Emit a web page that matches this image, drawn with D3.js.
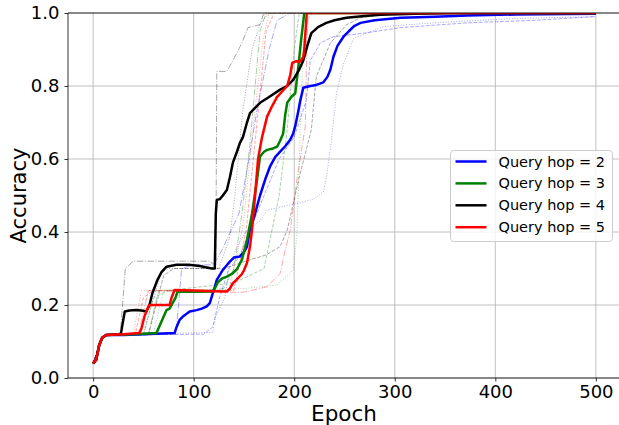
<!DOCTYPE html>
<meta charset="utf-8">
<style>
body { margin: 0; background: #fff; }
text { font-family: "DejaVu Sans", sans-serif; fill: #000; }
</style>
<svg width="619" height="425"></svg>
<script src="https://d3js.org/d3.v7.min.js"></script>
<script>

// main runs (bold lines), [epoch, accuracy]
var hop2 = [[0,0.04],[3,0.05],[6,0.09],[9,0.11],[13,0.118],[30,0.118],[50,0.12],[81,0.123],[83,0.14],[86,0.159],[90,0.17],[96,0.182],[103,0.186],[108,0.19],[113,0.196],[116,0.205],[118,0.223],[121,0.25],[123,0.269],[129,0.296],[136,0.319],[140,0.33],[146,0.333],[150,0.345],[153,0.36],[156,0.406],[160,0.44],[163,0.47],[166,0.5],[171,0.543],[176,0.58],[181,0.605],[186,0.62],[191,0.635],[196,0.653],[199,0.67],[201,0.69],[204,0.73],[206,0.76],[209,0.795],[216,0.80],[222,0.803],[229,0.81],[233,0.825],[236,0.845],[239,0.88],[243,0.91],[249,0.935],[255,0.952],[260,0.965],[266,0.973],[280,0.98],[306,0.987],[340,0.99],[372,0.993],[420,0.996],[500,0.998]];
var hop3 = [[0,0.04],[3,0.05],[6,0.09],[9,0.11],[13,0.118],[40,0.12],[63,0.123],[68,0.155],[73,0.186],[76,0.19],[79,0.205],[82,0.22],[84,0.237],[100,0.236],[119,0.237],[121,0.245],[124,0.262],[128,0.272],[133,0.278],[138,0.285],[143,0.298],[148,0.324],[153,0.378],[158,0.45],[163,0.543],[166,0.607],[170,0.62],[173,0.625],[178,0.628],[183,0.634],[186,0.65],[189,0.67],[191,0.72],[193,0.754],[197,0.77],[201,0.78],[204,0.85],[207,0.93],[210,1.0],[500,1.0]];
var hop4 = [[0,0.04],[3,0.05],[6,0.09],[9,0.11],[13,0.118],[27,0.12],[28,0.127],[30,0.16],[31.5,0.182],[36,0.185],[43,0.186],[50,0.184],[53,0.182],[56,0.2],[59,0.233],[64,0.269],[68,0.29],[73,0.305],[83,0.31],[95,0.31],[106,0.307],[113,0.303],[118,0.30],[121,0.30],[122,0.45],[123,0.488],[126,0.49],[129,0.5],[133,0.515],[136,0.55],[139,0.59],[143,0.62],[146,0.644],[149,0.66],[153,0.7],[156,0.726],[161,0.74],[166,0.754],[175,0.77],[186,0.79],[193,0.8],[199,0.817],[205,0.845],[209,0.87],[213,0.91],[217,0.945],[224,0.962],[232,0.973],[240,0.98],[252,0.987],[270,0.992],[286,0.995],[320,0.998],[360,1.0],[500,1.0]];
var hop5 = [[0,0.04],[3,0.05],[6,0.09],[9,0.11],[13,0.118],[30,0.12],[46,0.123],[48,0.135],[51,0.168],[54,0.19],[56,0.2],[65,0.2],[76,0.2],[78,0.22],[81,0.241],[100,0.24],[120,0.238],[133,0.237],[136,0.245],[139,0.26],[143,0.27],[148,0.285],[150,0.295],[153,0.315],[156,0.36],[158,0.405],[161,0.497],[164,0.6],[168,0.66],[173,0.716],[178,0.745],[183,0.77],[188,0.785],[193,0.80],[196,0.83],[198,0.863],[202,0.868],[206,0.867],[209,0.88],[210,0.9],[212.5,1.0],[500,1.0]];

// other runs (faint lines)
var hop2a = [[0,0.04],[9,0.11],[13,0.118],[82,0.12],[85,0.2],[88,0.3],[100,0.31],[120,0.31],[128,0.35],[145,0.45],[155,0.6],[163,0.735],[175,0.9],[183,0.98],[196,1.0],[500,1.0]];
var hop2b = [[0,0.04],[9,0.11],[13,0.118],[119,0.125],[122,0.17],[131,0.22],[136,0.31],[143,0.36],[153,0.405],[166,0.43],[173,0.46],[189,0.47],[206,0.48],[219,0.49],[229,0.51],[232,0.55],[237,0.65],[242,0.78],[249,0.86],[259,0.93],[289,0.963],[350,0.975],[420,0.985],[500,0.99]];
var hop2c = [[0,0.04],[9,0.11],[13,0.118],[110,0.12],[119,0.14],[126,0.223],[135,0.3],[145,0.33],[159,0.425],[170,0.5],[185,0.6],[200,0.66],[212,0.76],[216,0.87],[226,0.918],[239,0.935],[270,0.945],[306,0.96],[372,0.973],[439,0.98],[498,0.99]];
var hop3a = [[0,0.04],[9,0.11],[13,0.118],[55,0.12],[65,0.24],[100,0.24],[130,0.245],[140,0.3],[148,0.45],[156,0.643],[166,0.95],[172,1.0],[500,1.0]];
var hop3b = [[0,0.04],[9,0.11],[13,0.118],[60,0.12],[70,0.24],[110,0.24],[150,0.245],[183,0.255],[199,0.296],[202.5,0.387],[206,0.68],[209,0.918],[212.5,0.98],[218,1.0],[500,1.0]];
var hop3c = [[0,0.04],[9,0.11],[13,0.118],[50,0.12],[60,0.22],[75,0.24],[140,0.26],[170,0.3],[185,0.5],[193,0.68],[200,0.9],[205,1.0],[500,1.0]];
var hop4a = [[0,0.04],[9,0.11],[13,0.118],[27,0.118],[32,0.3],[40,0.32],[115,0.32],[122,0.31],[123,0.84],[133,0.84],[139,0.87],[148,0.918],[154,0.96],[166,0.968],[169,0.995],[175,1.0],[500,1.0]];
var hop4b = [[0,0.04],[9,0.11],[13,0.118],[50,0.118],[58,0.2],[68,0.29],[75,0.3],[125,0.3],[136,0.387],[141,0.5],[149,0.735],[158,0.9],[166,0.97],[175,1.0],[500,1.0]];
var hop4c = [[0,0.04],[9,0.11],[13,0.118],[55,0.118],[70,0.28],[80,0.3],[130,0.3],[155,0.323],[172,0.337],[186,0.36],[193,0.405],[205,0.55],[217,0.68],[222,0.826],[236,0.918],[252,0.968],[266,0.987],[300,1.0],[500,1.0]];
var hop5a = [[0,0.04],[9,0.11],[13,0.118],[45,0.12],[55,0.24],[100,0.235],[150,0.235],[173,0.25],[186,0.287],[191,0.35],[196,0.405],[203,0.55],[211,0.69],[212.5,0.918],[214,1.0],[500,1.0]];
var hop5b = [[0,0.04],[9,0.11],[13,0.118],[40,0.12],[48,0.24],[135,0.24],[149,0.415],[161,0.735],[169,0.927],[175,1.0],[500,1.0]];
var hop5c = [[0,0.04],[9,0.11],[13,0.118],[42,0.12],[50,0.22],[60,0.24],[140,0.24],[152,0.4],[163,0.7],[172,0.95],[180,1.0],[500,1.0]];

var labels = ["Query hop = 2", "Query hop = 3", "Query hop = 4", "Query hop = 5"];
var colors = ["#0000ff", "#008000", "#000000", "#ff0000"];
var mainRuns = [hop2, hop3, hop4, hop5];
var otherRuns = [[hop2a, hop2b, hop2c], [hop3a, hop3b, hop3c], [hop4a, hop4b, hop4c], [hop5a, hop5b, hop5c]];
var dashes = ["6.4,1.6,1,1.6", "1,1.65", "3.7,1.6"];
var xTicks = [0, 100, 200, 300, 400, 500];
var yTicks = [0, 0.2, 0.4, 0.6, 0.8, 1.0];

var svg = d3.select("svg"),
    pLeft = 68, pTop = 13, pBottom = 378, pRight = 621;

var x = d3.scaleLinear().domain([-25, 525]).range([pLeft, pRight]);
var y = d3.scaleLinear().domain([0, 1]).range([pBottom, pTop]);

svg.append("defs").append("clipPath").attr("id", "clip")
  .append("rect").attr("x", pLeft).attr("y", pTop).attr("width", pRight - pLeft).attr("height", pBottom - pTop);

// grid
svg.append("g").selectAll("line").data(xTicks).enter().append("line")
    .attr("x1", d => x(d)).attr("x2", d => x(d)).attr("y1", pTop).attr("y2", pBottom)
    .attr("stroke", "#b0b0b0").attr("stroke-width", 0.8);
svg.append("g").selectAll("line").data(yTicks).enter().append("line")
    .attr("x1", pLeft).attr("x2", pRight).attr("y1", d => y(d)).attr("y2", d => y(d))
    .attr("stroke", "#b0b0b0").attr("stroke-width", 0.8);

var line = d3.line().x(d => x(d[0])).y(d => y(d[1]));
var plot = svg.append("g").attr("clip-path", "url(#clip)");

otherRuns.forEach(function(runs, i) {
  runs.forEach(function(r, j) {
    plot.append("path").attr("d", line(r))
      .attr("fill", "none").attr("stroke", colors[i]).attr("stroke-opacity", 0.35)
      .attr("stroke-width", 1).attr("stroke-dasharray", dashes[j]);
  });
});

mainRuns.forEach(function(r, i) {
  plot.append("path").attr("d", line(r))
    .attr("fill", "none").attr("stroke", colors[i]).attr("stroke-width", 2.5)
    .attr("stroke-linejoin", "round");
});

// axes
var xAxis = svg.append("g").attr("transform", "translate(0," + pBottom + ")")
    .call(d3.axisBottom(x).tickValues(xTicks).tickSize(3.5).tickPadding(4).tickFormat(d3.format("d")));
var yAxis = svg.append("g").attr("transform", "translate(" + pLeft + ",0)")
    .call(d3.axisLeft(y).tickValues(yTicks).tickSize(3.5).tickPadding(5).tickFormat(d3.format(".1f")));
[xAxis, yAxis].forEach(function(a) {
  a.select(".domain").remove();
  a.attr("font-size", null).attr("font-family", null);
  a.selectAll("text").style("font-size", "18px").style("font-family", "DejaVu Sans");
  a.selectAll("line").attr("stroke", "#000").attr("stroke-width", 0.8);
});

// spines
svg.append("line").attr("x1", pLeft).attr("x2", pLeft).attr("y1", pTop).attr("y2", pBottom).attr("stroke", "#000").attr("stroke-width", 0.8);
svg.append("line").attr("x1", pLeft).attr("x2", pRight).attr("y1", pBottom).attr("y2", pBottom).attr("stroke", "#000").attr("stroke-width", 0.8);
svg.append("line").attr("x1", pLeft).attr("x2", pRight).attr("y1", pTop).attr("y2", pTop).attr("stroke", "#000").attr("stroke-width", 0.8);

svg.append("text").attr("x", 344).attr("y", 421).attr("text-anchor", "middle")
    .style("font-size", "21.5px").text("Epoch");
svg.append("text").attr("transform", "translate(26," + (pTop + pBottom) / 2 + ") rotate(-90)")
    .attr("text-anchor", "middle").style("font-size", "21px").text("Accuracy");

// legend
var lg = svg.append("g").attr("transform", "translate(450.5,150.5)");
lg.append("rect").attr("width", 162).attr("height", 91).attr("rx", 3)
    .attr("fill", "#fff").attr("fill-opacity", 0.8).attr("stroke", "#cccccc").attr("stroke-width", 1);
labels.forEach(function(l, i) {
  var yy = 11 + i * 21.9;
  lg.append("line").attr("x1", 5).attr("x2", 36).attr("y1", yy).attr("y2", yy)
    .attr("stroke", colors[i]).attr("stroke-width", 2.5);
  lg.append("text").attr("x", 48).attr("y", yy + 5).style("font-size", "14.5px").text(l);
});
</script>
